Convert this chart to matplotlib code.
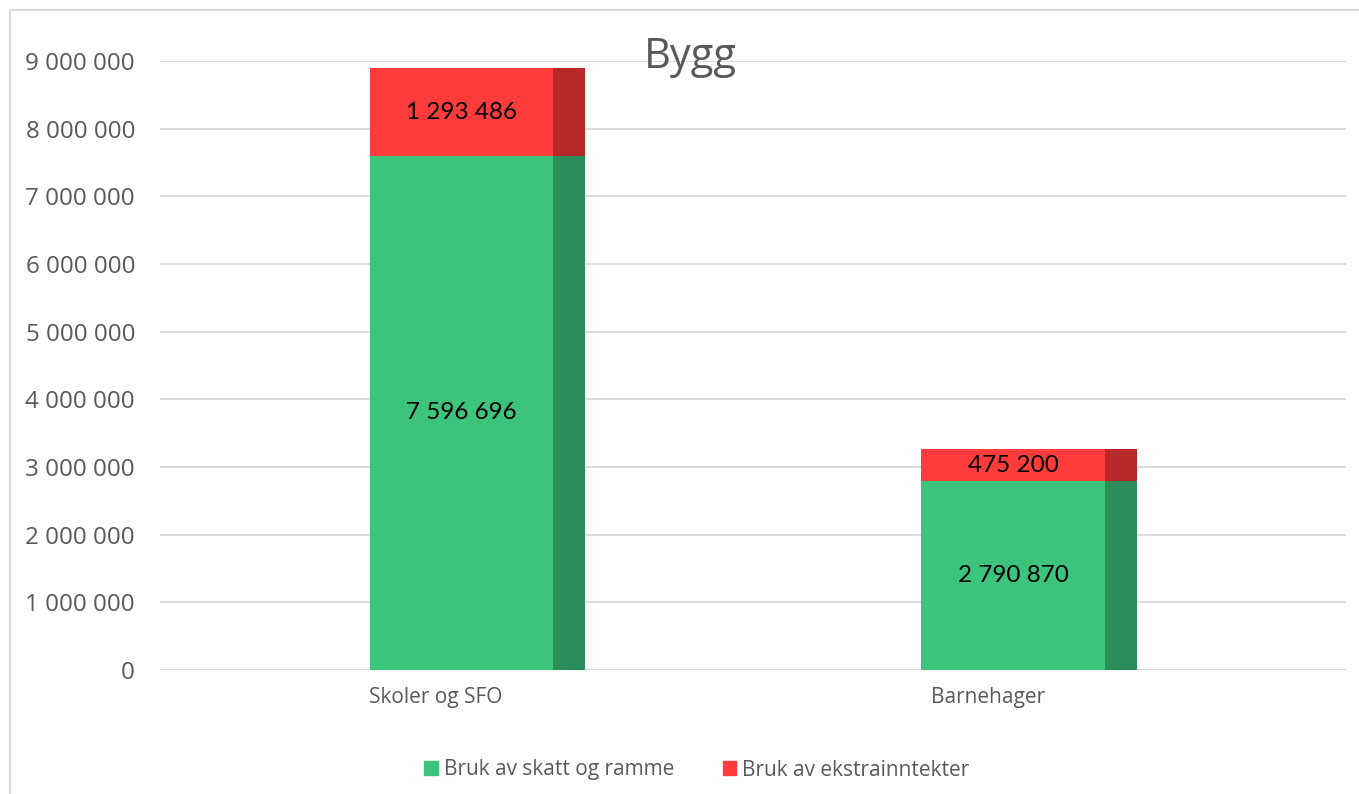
import matplotlib.pyplot as plt
from matplotlib.lines import Line2D
from matplotlib.patches import Patch

plt.rcParams['font.family'] = ['Open Sans', 'DejaVu Sans']

categories = ['Skoler og SFO', 'Barnehager']
skatt_ramme = [7596696, 2790870]
ekstra = [1293486, 475200]
series_names = ['Bruk av skatt og ramme', 'Bruk av ekstrainntekter']
yticks = [0, 1000000, 2000000, 3000000, 4000000, 5000000, 6000000, 7000000, 8000000, 9000000]

green = '#3CC47C'
red = '#FF3B3B'
text_gray = '#595959'
grid_gray = '#D9D9D9'


def fmt(v):
    return f'{v:,}'.replace(',', ' ')


fig = plt.figure(figsize=(13.59, 7.94), dpi=100)
ax = fig.add_axes([160 / 1359, 1 - 670 / 794, 1186 / 1359, 609 / 794])

x = list(range(len(categories)))
width = 0.39
side = 0.058

ax.bar(x, skatt_ramme, width=width, color=green, zorder=2)
ax.bar(x, ekstra, width=width, bottom=skatt_ramme, color=red, zorder=2)
# darker right side of the bars (pseudo 3D)
side_x = [i + width / 2 - side / 2 for i in x]
ax.bar(side_x, skatt_ramme, width=side, color='black', alpha=0.28, zorder=3, linewidth=0)
ax.bar(side_x, ekstra, width=side, bottom=skatt_ramme, color='black', alpha=0.28, zorder=3, linewidth=0)

face_x = [i - side / 2 for i in x]
for i in x:
    ax.text(face_x[i], skatt_ramme[i] / 2, fmt(skatt_ramme[i]), ha='center', va='center',
            fontsize=17.5, color='black', family=['Lato', 'DejaVu Sans'], zorder=4)
    ax.text(face_x[i], skatt_ramme[i] + ekstra[i] / 2, fmt(ekstra[i]), ha='center', va='center',
            fontsize=17.5, color='black', family=['Lato', 'DejaVu Sans'], zorder=4)

ax.set_xlim(-0.5757, 1.5748)
ax.set_ylim(0, 9000000)
ax.set_yticks(yticks)
ax.set_yticklabels([fmt(v) for v in yticks], fontsize=17.4, color=text_gray)
ax.set_xticks([i - 0.075 for i in x])
ax.set_xticklabels(categories, fontsize=15, color=text_gray)
ax.tick_params(axis='y', length=0, pad=18)
ax.tick_params(axis='x', length=0, pad=12)
ax.grid(axis='y', color=grid_gray, linewidth=1.3, zorder=0)
ax.set_axisbelow(True)
for s in ax.spines.values():
    s.set_visible(False)

fig.text(690 / 1359, 1 - 57 / 794, 'Bygg', ha='center', va='center', fontsize=30, color=text_gray)

handles = [Patch(color=green), Patch(color=red)]
fig.legend(handles, series_names, loc='center', bbox_to_anchor=(697 / 1359, 1 - 770 / 794),
           ncol=2, frameon=False, fontsize=15, labelcolor=text_gray,
           handlelength=0.65, handleheight=0.65, handletextpad=0.3, columnspacing=2.3)

# light border around the chart
fig.add_artist(Line2D([10 / 1359, 1], [1 - 10 / 794, 1 - 10 / 794], color=grid_gray, linewidth=1.5))
fig.add_artist(Line2D([10 / 1359, 10 / 1359], [0, 1 - 10 / 794], color=grid_gray, linewidth=1.5))

fig.savefig('out.png', dpi=100)
